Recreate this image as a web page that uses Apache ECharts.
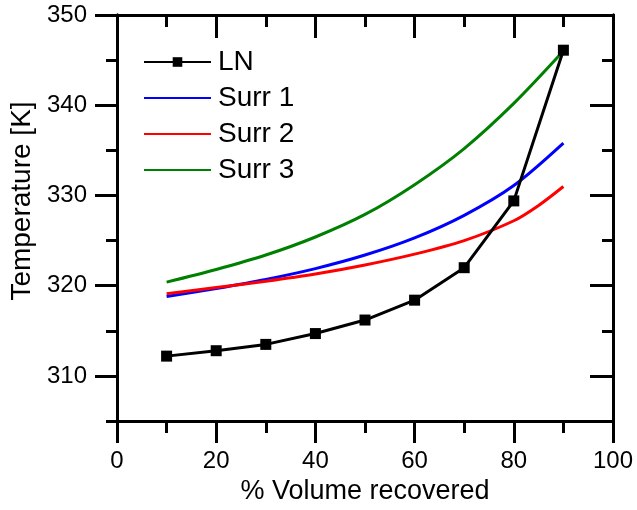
<!DOCTYPE html>
<html>
<head>
<meta charset="utf-8">
<script src="https://cdn.jsdelivr.net/npm/echarts@6/dist/echarts.min.js"></script>
<style>
  html, body { margin:0; padding:0; background:#fff; }
  #main { width:637px; height:510px; }
</style>
</head>
<body>
<div id="main"></div>
<script>
// data
var lnX = [10, 20, 30, 40, 50, 60, 70, 80, 90];
var lnY = [312.2, 312.8, 313.5, 314.7, 316.2, 318.4, 322.0, 329.4, 346.1];

var surr1X = [10, 20, 30, 40, 50, 60, 70, 80, 90];
var surr1Y = [318.8, 319.7, 320.7, 321.9, 323.4, 325.3, 327.8, 331.1, 335.8];

var surr2X = [10, 20, 30, 40, 50, 60, 70, 80, 85, 90];
var surr2Y = [319.1, 319.8, 320.5, 321.3, 322.3, 323.5, 325.0, 327.2, 328.9, 331.0];

var surr3X = [10, 20, 30, 40, 50, 60, 70, 80, 90];
var surr3Y = [320.4, 321.8, 323.4, 325.4, 327.9, 331.2, 335.2, 340.2, 346.0];

var yMajor = [310, 320, 330, 340, 350];
var yMinor = [305, 315, 325, 335, 345];

var FONT = 'Liberation Sans, Arial, sans-serif';

function pairs(xs, ys) {
  var out = [];
  for (var i = 0; i < xs.length; i++) out.push([xs[i], ys[i]]);
  return out;
}

var lineBlack = { color: '#000', width: 3 };

function yAx(pos, inside, ticks, len, withLabels) {
  return {
    type: 'value', min: 305, max: 350, position: pos,
    axisLine: { show: true, onZero: false, lineStyle: lineBlack },
    axisTick: { show: true, inside: inside, length: len, customValues: ticks, lineStyle: lineBlack },
    splitLine: { show: false },
    axisLabel: withLabels ? { show: true, customValues: yMajor, margin: 30, fontSize: 24, color: '#000', fontFamily: FONT }
                          : { show: false }
  };
}

var noMark = { opacity: 0 };

var chart = echarts.init(document.getElementById('main'));
chart.setOption({
  animation: false,
  backgroundColor: '#fff',
  grid: { left: 117, right: 24, top: 15, bottom: 83 },
  legend: {
    orient: 'vertical', left: 138, top: 43,
    itemWidth: 67, itemHeight: 12, itemGap: 8,
    textStyle: { fontSize: 28, color: '#000', fontFamily: FONT, padding: [0, 0, 0, 2] },
    data: [
      { name: 'LN' },
      { name: 'Surr 1', itemStyle: noMark },
      { name: 'Surr 2', itemStyle: noMark },
      { name: 'Surr 3', itemStyle: noMark }
    ]
  },
  xAxis: [{
    type: 'value', min: 0, max: 100, interval: 20, position: 'bottom',
    axisLine: { show: true, onZero: false, lineStyle: lineBlack },
    axisTick: { show: true, length: 22, lineStyle: lineBlack },
    minorTick: { show: true, splitNumber: 2, length: 12, lineStyle: lineBlack },
    splitLine: { show: false },
    axisLabel: { margin: 28, fontSize: 24, color: '#000', fontFamily: FONT },
    name: '% Volume recovered', nameLocation: 'middle', nameGap: 49,
    nameTextStyle: { fontSize: 27, color: '#000', fontFamily: FONT }
  }, {
    type: 'value', min: 0, max: 100, interval: 20, position: 'top',
    axisLine: { show: true, onZero: false, lineStyle: lineBlack },
    axisTick: { show: true, inside: true, length: 23, lineStyle: lineBlack },
    minorTick: { show: true, splitNumber: 2, length: 12, lineStyle: lineBlack },
    splitLine: { show: false },
    axisLabel: { show: false }
  }],
  yAxis: [
    yAx('left', false, yMajor, 22, true),
    yAx('left', false, yMinor, 11, false),
    yAx('right', true, yMajor, 23, false),
    yAx('right', true, yMinor, 11, false)
  ],
  graphic: [{
    type: 'text', x: 22, y: 201, rotation: Math.PI / 2,
    style: {
      text: 'Temperature [K]', fontSize: 28, fontFamily: FONT, fill: '#000',
      align: 'center', verticalAlign: 'middle'
    }
  }],
  series: [{
    name: 'LN', type: 'line', data: pairs(lnX, lnY),
    symbol: 'rect', symbolSize: 11, showAllSymbol: true,
    itemStyle: { color: '#000' },
    lineStyle: { color: '#000', width: 3 }, z: 5
  }, {
    name: 'Surr 1', type: 'line', data: pairs(surr1X, surr1Y), smooth: 0.3,
    symbol: 'none', itemStyle: { color: '#0000ff' }, lineStyle: { color: '#0000ff', width: 3 }
  }, {
    name: 'Surr 2', type: 'line', data: pairs(surr2X, surr2Y), smooth: 0.3,
    symbol: 'none', itemStyle: { color: '#ff0000' }, lineStyle: { color: '#ff0000', width: 3 }
  }, {
    name: 'Surr 3', type: 'line', data: pairs(surr3X, surr3Y), smooth: 0.3,
    symbol: 'none', itemStyle: { color: '#008000' }, lineStyle: { color: '#008000', width: 3 }
  }]
});
</script>
</body>
</html>
